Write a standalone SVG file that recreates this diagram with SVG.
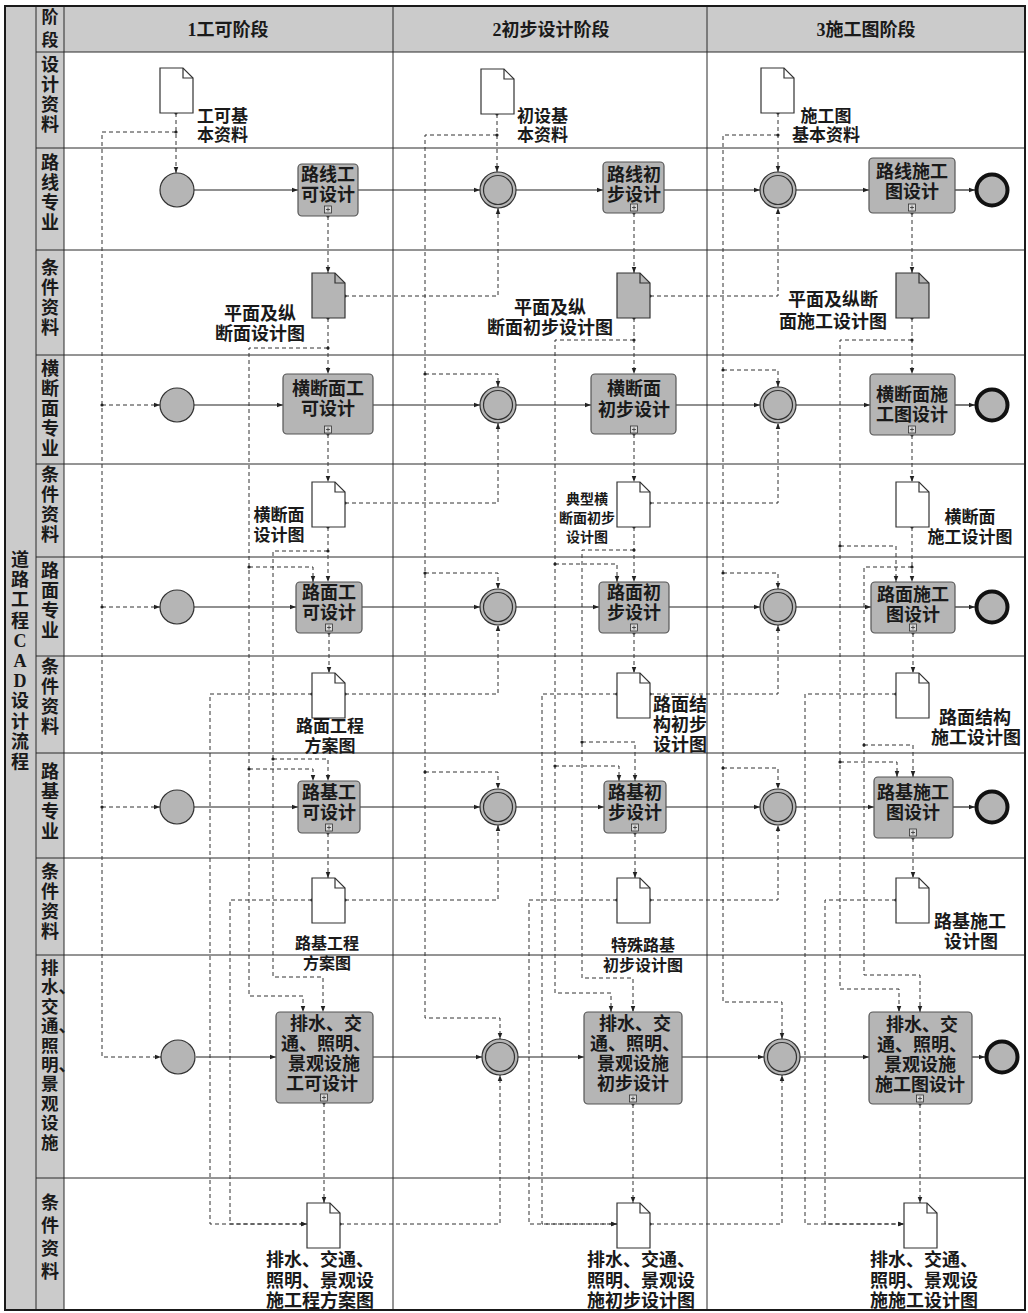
<svg xmlns="http://www.w3.org/2000/svg" width="1028" height="1313" viewBox="0 0 1028 1313">
<defs>
<style>
.band{fill:#cbcbcb}
.grid{stroke:#2a2a2a;stroke-width:1;fill:none}
.frame{stroke:#1a1a1a;stroke-width:2;fill:none}
.t{font-family:"Liberation Serif","Noto Sans CJK SC",serif;font-weight:bold;fill:#1a1a1a}
.lbl{font-size:18px}
.hd{font-size:18px}
.task{fill:#b5b5b5;stroke:#555;stroke-width:1.2}
.plus{fill:#d8d8d8;stroke:#333;stroke-width:0.8}
.ev{fill:#b5b5b5;stroke:#333;stroke-width:1.2}
.evi{fill:none;stroke:#333;stroke-width:1.2}
.end{fill:#b5b5b5;stroke:#111;stroke-width:4}
.doc{fill:#fff;stroke:#333;stroke-width:1.2}
.docg{fill:#b5b5b5;stroke:#333;stroke-width:1.2}
.fold{fill:none;stroke:#333;stroke-width:1.2}
.flow{fill:none;stroke:#222;stroke-width:1.2;marker-end:url(#arr)}
.msg{fill:none;stroke:#333;stroke-width:1;stroke-dasharray:4 3;marker-end:url(#arr);marker-start:url(#dot)}
</style>
<marker id="arr" viewBox="0 0 8 8" refX="8" refY="4" markerWidth="6" markerHeight="6" orient="auto" markerUnits="userSpaceOnUse"><path d="M0,1 L8,4 L0,7 z" fill="#222"/></marker>
<marker id="dot" viewBox="0 0 4 4" refX="2" refY="2" markerWidth="4" markerHeight="4" markerUnits="userSpaceOnUse"><circle cx="2" cy="2" r="1.6" fill="#222"/></marker>
<g id="docshape"><path d="M0,0 H23 L33,10 V45 H0 Z"/></g>
</defs>

<rect width="1028" height="1313" fill="#fff"/>

<g id="pool">
<rect class="band" x="5" y="6" width="31" height="1304"/>
<rect class="band" x="36" y="6" width="28" height="1304"/>
<rect class="band" x="64" y="6" width="961" height="46"/>
<g class="grid">
<path d="M36,6 V1310 M64,6 V1310 M393,6 V1310 M707,6 V1310"/>
<path d="M36,52 H1025 M36,148 H1025 M36,250 H1025 M36,355 H1025 M36,464 H1025 M36,557 H1025 M36,656 H1025 M36,753 H1025 M36,858 H1025 M36,955 H1025 M36,1178 H1025"/>
</g>
<rect class="frame" x="5" y="6" width="1020" height="1304"/>
<text class="t" font-size="18" text-anchor="middle" dominant-baseline="central"><tspan x="20" y="560">道</tspan><tspan x="20" y="580.2">路</tspan><tspan x="20" y="600.4">工</tspan><tspan x="20" y="620.6">程</tspan><tspan x="20" y="640.8">C</tspan><tspan x="20" y="661">A</tspan><tspan x="20" y="681.2">D</tspan><tspan x="20" y="701.4">设</tspan><tspan x="20" y="721.6">计</tspan><tspan x="20" y="741.8">流</tspan><tspan x="20" y="762">程</tspan></text>
<text class="t" font-size="17" text-anchor="middle" dominant-baseline="central"><tspan x="50" y="17">阶</tspan><tspan x="50" y="40">段</tspan></text>
<text class="t hd" x="228" y="30" text-anchor="middle" dominant-baseline="central">1工可阶段</text>
<text class="t hd" x="551" y="30" text-anchor="middle" dominant-baseline="central">2初步设计阶段</text>
<text class="t hd" x="866" y="30" text-anchor="middle" dominant-baseline="central">3施工图阶段</text>
<g class="t lbl" text-anchor="middle" dominant-baseline="central">
<text><tspan x="50" y="65">设</tspan><tspan x="50" y="85">计</tspan><tspan x="50" y="105">资</tspan><tspan x="50" y="125">料</tspan></text>
<text><tspan x="50" y="163">路</tspan><tspan x="50" y="183">线</tspan><tspan x="50" y="203">专</tspan><tspan x="50" y="223">业</tspan></text>
<text><tspan x="50" y="268">条</tspan><tspan x="50" y="288">件</tspan><tspan x="50" y="308">资</tspan><tspan x="50" y="328">料</tspan></text>
<text><tspan x="50" y="369">横</tspan><tspan x="50" y="389">断</tspan><tspan x="50" y="409">面</tspan><tspan x="50" y="429">专</tspan><tspan x="50" y="449">业</tspan></text>
<text><tspan x="50" y="475">条</tspan><tspan x="50" y="495">件</tspan><tspan x="50" y="515">资</tspan><tspan x="50" y="535">料</tspan></text>
<text><tspan x="50" y="571">路</tspan><tspan x="50" y="591">面</tspan><tspan x="50" y="611">专</tspan><tspan x="50" y="631">业</tspan></text>
<text><tspan x="50" y="667">条</tspan><tspan x="50" y="687">件</tspan><tspan x="50" y="707">资</tspan><tspan x="50" y="727">料</tspan></text>
<text><tspan x="50" y="772">路</tspan><tspan x="50" y="792">基</tspan><tspan x="50" y="812">专</tspan><tspan x="50" y="832">业</tspan></text>
<text><tspan x="50" y="872">条</tspan><tspan x="50" y="892">件</tspan><tspan x="50" y="912">资</tspan><tspan x="50" y="932">料</tspan></text>
<text><tspan x="50" y="1203">条</tspan><tspan x="50" y="1226">件</tspan><tspan x="50" y="1249">资</tspan><tspan x="50" y="1272">料</tspan></text>
</g>
<text class="t" font-size="17.5" dominant-baseline="central"><tspan x="41" y="968">排</tspan><tspan x="41" y="987.4">水、</tspan><tspan x="41" y="1006.8">交</tspan><tspan x="41" y="1026.2">通、</tspan><tspan x="41" y="1045.6">照</tspan><tspan x="41" y="1065">明、</tspan><tspan x="41" y="1084.4">景</tspan><tspan x="41" y="1103.8">观</tspan><tspan x="41" y="1123.2">设</tspan><tspan x="41" y="1142.6">施</tspan></text>
</g>

<g id="connectors">
<g id="sequence-flows">
<path class="flow" d="M194,190H298"/><path class="flow" d="M358,190H480"/><path class="flow" d="M516,190H603"/><path class="flow" d="M664,190H760"/><path class="flow" d="M796,190H869"/><path class="flow" d="M955,190H975"/>
<path class="flow" d="M194,405H283"/><path class="flow" d="M373,405H480"/><path class="flow" d="M516,405H591"/><path class="flow" d="M676,405H760"/><path class="flow" d="M796,405H870"/><path class="flow" d="M955,405H975"/>
<path class="flow" d="M194,607H296"/><path class="flow" d="M362,607H480"/><path class="flow" d="M516,607H599"/><path class="flow" d="M669,607H760"/><path class="flow" d="M796,607H871"/><path class="flow" d="M955,607H975"/>
<path class="flow" d="M194,807H298"/><path class="flow" d="M360,807H480"/><path class="flow" d="M516,807H604"/><path class="flow" d="M666,807H760"/><path class="flow" d="M796,807H874"/><path class="flow" d="M953,807H975"/>
<path class="flow" d="M196,1057H276"/><path class="flow" d="M373,1057H482"/><path class="flow" d="M518,1057H584"/><path class="flow" d="M682,1057H764"/><path class="flow" d="M800,1057H869"/><path class="flow" d="M972,1057H985"/>
</g>
<g id="data-flows">
<path class="msg" d="M176,113V173"/>
<path class="msg" d="M176,132H102V1057H161"/>
<path class="msg" d="M102,405H160"/><path class="msg" d="M102,607H160"/><path class="msg" d="M102,807H160"/>
<path class="msg" d="M328,216V273"/>
<path class="msg" d="M345,296H498V208"/>
<path class="msg" d="M328,318V374"/>
<path class="msg" d="M328,348H249V996H303V1012"/>
<path class="msg" d="M249,567H313V582"/><path class="msg" d="M249,769H313V781"/>
<path class="msg" d="M328,434V482"/>
<path class="msg" d="M345,503H498V423"/>
<path class="msg" d="M328,527V582"/>
<path class="msg" d="M328,551H273V977H323V1012"/>
<path class="msg" d="M273,759H328V781"/>
<path class="msg" d="M329,633V673"/>
<path class="msg" d="M345,694H498V625"/>
<path class="msg" d="M312,694H210V1224H307"/>
<path class="msg" d="M328,833V878"/>
<path class="msg" d="M345,900H498V825"/>
<path class="msg" d="M312,900H230V1224H307"/>
<path class="msg" d="M324,1103V1203"/>
<path class="msg" d="M340,1224H500V1075"/>
<path class="msg" d="M497,114V172"/>
<path class="msg" d="M497,135H425V1018H500V1039"/>
<path class="msg" d="M425,374H498V387"/><path class="msg" d="M425,573H498V589"/><path class="msg" d="M425,772H498V789"/>
<path class="msg" d="M634,213V273"/>
<path class="msg" d="M650,296H778V208"/>
<path class="msg" d="M634,318V374"/>
<path class="msg" d="M634,340H555V993H611V1012"/>
<path class="msg" d="M555,564H617V582"/><path class="msg" d="M555,766H619V781"/>
<path class="msg" d="M634,434V482"/>
<path class="msg" d="M650,503H778V423"/>
<path class="msg" d="M634,527V582"/>
<path class="msg" d="M634,550H582V978H633V1012"/>
<path class="msg" d="M582,742H635V781"/>
<path class="msg" d="M634,633V673"/>
<path class="msg" d="M650,694H778V625"/>
<path class="msg" d="M617,694H542V1224H617"/>
<path class="msg" d="M635,833V878"/>
<path class="msg" d="M650,900H778V825"/>
<path class="msg" d="M617,900H529V1224H617"/>
<path class="msg" d="M633,1104V1203"/>
<path class="msg" d="M650,1224H782V1075"/>
<path class="msg" d="M778,113V172"/>
<path class="msg" d="M778,135H723V1002H782V1039"/>
<path class="msg" d="M723,370H778V387"/><path class="msg" d="M723,573H778V589"/><path class="msg" d="M723,768H778V789"/>
<path class="msg" d="M912,213V273"/>
<path class="msg" d="M912,318V374"/>
<path class="msg" d="M912,340H840V989H899V1012"/>
<path class="msg" d="M840,546H896V582"/><path class="msg" d="M840,762H897V777"/>
<path class="msg" d="M912,435V482"/>
<path class="msg" d="M912,527V582"/>
<path class="msg" d="M912,567H864V975H920V1012"/>
<path class="msg" d="M864,745H913V777"/>
<path class="msg" d="M913,633V673"/>
<path class="msg" d="M896,694H805V1224H904"/>
<path class="msg" d="M913,838V878"/>
<path class="msg" d="M896,900H825V1224H904"/>
<path class="msg" d="M920,1104V1203"/>
</g>
</g>

<g id="start-luxian"><circle class="ev" cx="177" cy="190" r="17"/></g>
<g id="start-hengduanmian"><circle class="ev" cx="177" cy="405" r="17"/></g>
<g id="start-lumian"><circle class="ev" cx="177" cy="607" r="17"/></g>
<g id="start-luji"><circle class="ev" cx="177" cy="807" r="17"/></g>
<g id="start-paishui"><circle class="ev" cx="178" cy="1057" r="17"/></g>

<g id="mid2-luxian"><circle class="ev" cx="498" cy="190" r="18"/><circle class="evi" cx="498" cy="190" r="14.5"/></g>
<g id="mid2-hengduanmian"><circle class="ev" cx="498" cy="405" r="18"/><circle class="evi" cx="498" cy="405" r="14.5"/></g>
<g id="mid2-lumian"><circle class="ev" cx="498" cy="607" r="18"/><circle class="evi" cx="498" cy="607" r="14.5"/></g>
<g id="mid2-luji"><circle class="ev" cx="498" cy="807" r="18"/><circle class="evi" cx="498" cy="807" r="14.5"/></g>
<g id="mid2-paishui"><circle class="ev" cx="500" cy="1057" r="18"/><circle class="evi" cx="500" cy="1057" r="14.5"/></g>
<g id="mid3-luxian"><circle class="ev" cx="778" cy="190" r="18"/><circle class="evi" cx="778" cy="190" r="14.5"/></g>
<g id="mid3-hengduanmian"><circle class="ev" cx="778" cy="405" r="18"/><circle class="evi" cx="778" cy="405" r="14.5"/></g>
<g id="mid3-lumian"><circle class="ev" cx="778" cy="607" r="18"/><circle class="evi" cx="778" cy="607" r="14.5"/></g>
<g id="mid3-luji"><circle class="ev" cx="778" cy="807" r="18"/><circle class="evi" cx="778" cy="807" r="14.5"/></g>
<g id="mid3-paishui"><circle class="ev" cx="782" cy="1057" r="18"/><circle class="evi" cx="782" cy="1057" r="14.5"/></g>

<g id="end-luxian"><circle class="end" cx="992" cy="190" r="15.5"/></g>
<g id="end-hengduanmian"><circle class="end" cx="992" cy="405" r="15.5"/></g>
<g id="end-lumian"><circle class="end" cx="992" cy="607" r="15.5"/></g>
<g id="end-luji"><circle class="end" cx="992" cy="807" r="15.5"/></g>
<g id="end-paishui"><circle class="end" cx="1002" cy="1057" r="15.5"/></g>

<g id="task-1-luxian"><rect class="task" x="298" y="164" width="60" height="52" rx="4"/><text class="t" font-size="18" text-anchor="middle" dominant-baseline="central"><tspan x="328" y="175">路线工</tspan><tspan x="328" y="195">可设计</tspan></text><rect class="plus" x="324.5" y="206" width="7" height="7"/><path d="M326,209.5h4M328,207.5v4" stroke="#333" stroke-width="0.8"/></g>
<g id="task-1-hengduanmian"><rect class="task" x="283" y="374" width="90" height="60" rx="4"/><text class="t" font-size="18" text-anchor="middle" dominant-baseline="central"><tspan x="328" y="389">横断面工</tspan><tspan x="328" y="409">可设计</tspan></text><rect class="plus" x="324.5" y="426" width="7" height="7"/><path d="M326,429.5h4M328,427.5v4" stroke="#333" stroke-width="0.8"/></g>
<g id="task-1-lumian"><rect class="task" x="296" y="582" width="66" height="51" rx="4"/><text class="t" font-size="18" text-anchor="middle" dominant-baseline="central"><tspan x="329" y="593">路面工</tspan><tspan x="329" y="613">可设计</tspan></text><rect class="plus" x="325.5" y="624" width="7" height="7"/><path d="M327,627.5h4M329,625.5v4" stroke="#333" stroke-width="0.8"/></g>
<g id="task-1-luji"><rect class="task" x="298" y="781" width="62" height="52" rx="4"/><text class="t" font-size="18" text-anchor="middle" dominant-baseline="central"><tspan x="329" y="793">路基工</tspan><tspan x="329" y="813">可设计</tspan></text><rect class="plus" x="325.5" y="824" width="7" height="7"/><path d="M327,827.5h4M329,825.5v4" stroke="#333" stroke-width="0.8"/></g>
<g id="task-1-paishui"><rect class="task" x="276" y="1012" width="97" height="91" rx="4"/><text class="t" font-size="18" text-anchor="middle" dominant-baseline="central"><tspan x="326" y="1024">排水、交</tspan><tspan x="326" y="1044">通、照明、</tspan><tspan x="324" y="1064">景观设施</tspan><tspan x="322" y="1084">工可设计</tspan></text><rect class="plus" x="320.5" y="1094" width="7" height="7"/><path d="M322,1097.5h4M324,1095.5v4" stroke="#333" stroke-width="0.8"/></g>

<g id="task-2-luxian"><rect class="task" x="603" y="162" width="61" height="51" rx="4"/><text class="t" font-size="18" text-anchor="middle" dominant-baseline="central"><tspan x="634" y="175">路线初</tspan><tspan x="634" y="195">步设计</tspan></text><rect class="plus" x="630.5" y="204" width="7" height="7"/><path d="M632,207.5h4M634,205.5v4" stroke="#333" stroke-width="0.8"/></g>
<g id="task-2-hengduanmian"><rect class="task" x="591" y="374" width="85" height="60" rx="4"/><text class="t" font-size="18" text-anchor="middle" dominant-baseline="central"><tspan x="634" y="389">横断面</tspan><tspan x="634" y="410">初步设计</tspan></text><rect class="plus" x="630.5" y="426" width="7" height="7"/><path d="M632,429.5h4M634,427.5v4" stroke="#333" stroke-width="0.8"/></g>
<g id="task-2-lumian"><rect class="task" x="599" y="582" width="70" height="51" rx="4"/><text class="t" font-size="18" text-anchor="middle" dominant-baseline="central"><tspan x="634" y="593">路面初</tspan><tspan x="634" y="613">步设计</tspan></text><rect class="plus" x="630.5" y="624" width="7" height="7"/><path d="M632,627.5h4M634,625.5v4" stroke="#333" stroke-width="0.8"/></g>
<g id="task-2-luji"><rect class="task" x="604" y="781" width="62" height="52" rx="4"/><text class="t" font-size="18" text-anchor="middle" dominant-baseline="central"><tspan x="635" y="793">路基初</tspan><tspan x="635" y="813">步设计</tspan></text><rect class="plus" x="631.5" y="824" width="7" height="7"/><path d="M633,827.5h4M635,825.5v4" stroke="#333" stroke-width="0.8"/></g>
<g id="task-2-paishui"><rect class="task" x="584" y="1012" width="98" height="92" rx="4"/><text class="t" font-size="18" text-anchor="middle" dominant-baseline="central"><tspan x="635" y="1024">排水、交</tspan><tspan x="635" y="1044">通、照明、</tspan><tspan x="633" y="1064">景观设施</tspan><tspan x="633" y="1084">初步设计</tspan></text><rect class="plus" x="629.5" y="1095" width="7" height="7"/><path d="M631,1098.5h4M633,1096.5v4" stroke="#333" stroke-width="0.8"/></g>

<g id="task-3-luxian"><rect class="task" x="869" y="158" width="86" height="55" rx="4"/><text class="t" font-size="18" text-anchor="middle" dominant-baseline="central"><tspan x="912" y="172">路线施工</tspan><tspan x="912" y="192">图设计</tspan></text><rect class="plus" x="908.5" y="204" width="7" height="7"/><path d="M910,207.5h4M912,205.5v4" stroke="#333" stroke-width="0.8"/></g>
<g id="task-3-hengduanmian"><rect class="task" x="870" y="374" width="85" height="61" rx="4"/><text class="t" font-size="18" text-anchor="middle" dominant-baseline="central"><tspan x="912" y="395">横断面施</tspan><tspan x="912" y="415">工图设计</tspan></text><rect class="plus" x="908.5" y="426" width="7" height="7"/><path d="M910,429.5h4M912,427.5v4" stroke="#333" stroke-width="0.8"/></g>
<g id="task-3-lumian"><rect class="task" x="871" y="582" width="84" height="51" rx="4"/><text class="t" font-size="18" text-anchor="middle" dominant-baseline="central"><tspan x="913" y="595">路面施工</tspan><tspan x="913" y="615">图设计</tspan></text><rect class="plus" x="909.5" y="624" width="7" height="7"/><path d="M911,627.5h4M913,625.5v4" stroke="#333" stroke-width="0.8"/></g>
<g id="task-3-luji"><rect class="task" x="874" y="777" width="79" height="61" rx="4"/><text class="t" font-size="18" text-anchor="middle" dominant-baseline="central"><tspan x="913" y="793">路基施工</tspan><tspan x="913" y="813">图设计</tspan></text><rect class="plus" x="909.5" y="829" width="7" height="7"/><path d="M911,832.5h4M913,830.5v4" stroke="#333" stroke-width="0.8"/></g>
<g id="task-3-paishui"><rect class="task" x="869" y="1012" width="103" height="92" rx="4"/><text class="t" font-size="18" text-anchor="middle" dominant-baseline="central"><tspan x="922" y="1025">排水、交</tspan><tspan x="922" y="1045">通、照明、</tspan><tspan x="920" y="1065">景观设施</tspan><tspan x="920" y="1085">施工图设计</tspan></text><rect class="plus" x="916.5" y="1095" width="7" height="7"/><path d="M918,1098.5h4M920,1096.5v4" stroke="#333" stroke-width="0.8"/></g>

<g id="doc-1-base"><use href="#docshape" x="160" y="68" class="doc"/><path class="fold" d="M183,68V78H193"/><text class="t" font-size="17" dominant-baseline="central"><tspan x="197" y="116">工可基</tspan><tspan x="197" y="135">本资料</tspan></text></g>
<g id="doc-1-pingmian"><use href="#docshape" x="312" y="273" class="docg"/><path class="fold" d="M335,273V283H345"/><text class="t" font-size="18" text-anchor="middle" dominant-baseline="central"><tspan x="260" y="314">平面及纵</tspan><tspan x="260" y="334">断面设计图</tspan></text></g>
<g id="doc-1-hengduanmian"><use href="#docshape" x="312" y="482" class="doc"/><path class="fold" d="M335,482V492H345"/><text class="t" font-size="17" text-anchor="middle" dominant-baseline="central"><tspan x="279" y="515">横断面</tspan><tspan x="279" y="535">设计图</tspan></text></g>
<g id="doc-1-lumian"><use href="#docshape" x="312" y="673" class="doc"/><path class="fold" d="M335,673V683H345"/><text class="t" font-size="17" text-anchor="middle" dominant-baseline="central"><tspan x="330" y="726">路面工程</tspan><tspan x="330" y="746">方案图</tspan></text></g>
<g id="doc-1-luji"><use href="#docshape" x="312" y="878" class="doc"/><path class="fold" d="M335,878V888H345"/><text class="t" font-size="16" text-anchor="middle" dominant-baseline="central"><tspan x="327" y="943">路基工程</tspan><tspan x="327" y="963">方案图</tspan></text></g>
<g id="doc-1-paishui"><use href="#docshape" x="307" y="1203" class="doc"/><path class="fold" d="M330,1203V1213H340"/><text class="t" font-size="18" text-anchor="middle" dominant-baseline="central"><tspan x="320" y="1260">排水、交通、</tspan><tspan x="320" y="1281">照明、景观设</tspan><tspan x="320" y="1301">施工程方案图</tspan></text></g>

<g id="doc-2-base"><use href="#docshape" x="481" y="69" class="doc"/><path class="fold" d="M504,69V79H514"/><text class="t" font-size="17" dominant-baseline="central"><tspan x="517" y="116">初设基</tspan><tspan x="517" y="135">本资料</tspan></text></g>
<g id="doc-2-pingmian"><use href="#docshape" x="617" y="273" class="docg"/><path class="fold" d="M640,273V283H650"/><text class="t" font-size="18" text-anchor="middle" dominant-baseline="central"><tspan x="550" y="308">平面及纵</tspan><tspan x="550" y="328">断面初步设计图</tspan></text></g>
<g id="doc-2-hengduanmian"><use href="#docshape" x="617" y="482" class="doc"/><path class="fold" d="M640,482V492H650"/><text class="t" font-size="14" text-anchor="middle" dominant-baseline="central"><tspan x="587" y="499">典型横</tspan><tspan x="587" y="518">断面初步</tspan><tspan x="587" y="537">设计图</tspan></text></g>
<g id="doc-2-lumian"><use href="#docshape" x="617" y="673" class="doc"/><path class="fold" d="M640,673V683H650"/><text class="t" font-size="18" dominant-baseline="central"><tspan x="653" y="705">路面结</tspan><tspan x="653" y="725">构初步</tspan><tspan x="653" y="745">设计图</tspan></text></g>
<g id="doc-2-luji"><use href="#docshape" x="617" y="878" class="doc"/><path class="fold" d="M640,878V888H650"/><text class="t" font-size="16" text-anchor="middle" dominant-baseline="central"><tspan x="643" y="945">特殊路基</tspan><tspan x="643" y="965">初步设计图</tspan></text></g>
<g id="doc-2-paishui"><use href="#docshape" x="617" y="1203" class="doc"/><path class="fold" d="M640,1203V1213H650"/><text class="t" font-size="18" text-anchor="middle" dominant-baseline="central"><tspan x="641" y="1260">排水、交通、</tspan><tspan x="641" y="1281">照明、景观设</tspan><tspan x="641" y="1301">施初步设计图</tspan></text></g>

<g id="doc-3-base"><use href="#docshape" x="761" y="68" class="doc"/><path class="fold" d="M784,68V78H794"/><text class="t" font-size="17" text-anchor="middle" dominant-baseline="central"><tspan x="826" y="116">施工图</tspan><tspan x="826" y="135">基本资料</tspan></text></g>
<g id="doc-3-pingmian"><use href="#docshape" x="896" y="273" class="docg"/><path class="fold" d="M919,273V283H929"/><text class="t" font-size="18" text-anchor="middle" dominant-baseline="central"><tspan x="833" y="300">平面及纵断</tspan><tspan x="833" y="322">面施工设计图</tspan></text></g>
<g id="doc-3-hengduanmian"><use href="#docshape" x="896" y="482" class="doc"/><path class="fold" d="M919,482V492H929"/><text class="t" font-size="17" text-anchor="middle" dominant-baseline="central"><tspan x="970" y="517">横断面</tspan><tspan x="970" y="537">施工设计图</tspan></text></g>
<g id="doc-3-lumian"><use href="#docshape" x="896" y="673" class="doc"/><path class="fold" d="M919,673V683H929"/><text class="t" font-size="18" text-anchor="middle" dominant-baseline="central"><tspan x="975" y="718">路面结构</tspan><tspan x="976" y="738">施工设计图</tspan></text></g>
<g id="doc-3-luji"><use href="#docshape" x="896" y="878" class="doc"/><path class="fold" d="M919,878V888H929"/><text class="t" font-size="18" text-anchor="middle" dominant-baseline="central"><tspan x="970" y="922">路基施工</tspan><tspan x="971" y="942">设计图</tspan></text></g>
<g id="doc-3-paishui"><use href="#docshape" x="904" y="1203" class="doc"/><path class="fold" d="M927,1203V1213H937"/><text class="t" font-size="18" text-anchor="middle" dominant-baseline="central"><tspan x="924" y="1260">排水、交通、</tspan><tspan x="924" y="1281">照明、景观设</tspan><tspan x="924" y="1301">施施工设计图</tspan></text></g>
</svg>
